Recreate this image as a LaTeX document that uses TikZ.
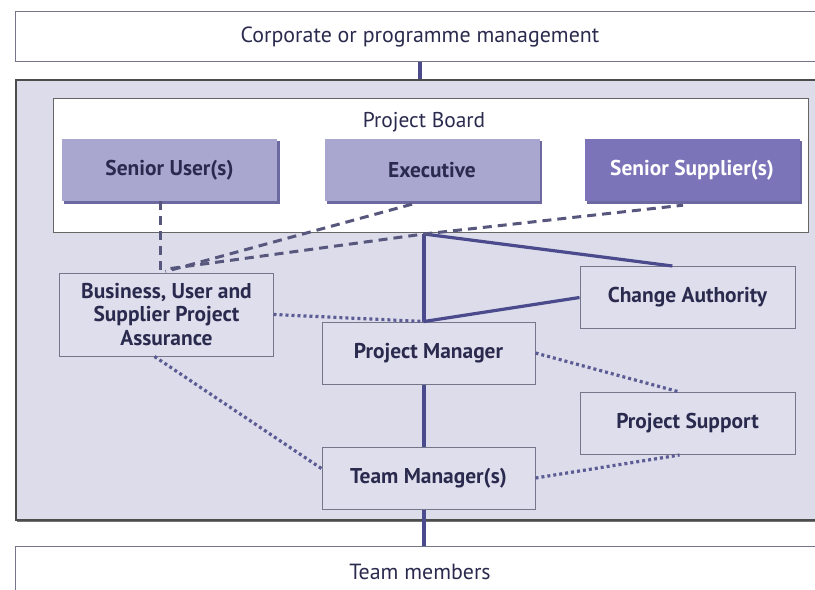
\documentclass[tikz,border=0pt]{standalone}
\usepackage{fontspec}
\setmainfont{PT Sans}
\usetikzlibrary{calc, shadows, arrows.meta}
\definecolor{linkcol}{HTML}{4A4A8C}
\definecolor{dashcol}{HTML}{57577E}
\definecolor{dotcol}{HTML}{5C5C94}
\definecolor{panelfill}{HTML}{DCDCEB}
\definecolor{rolefill}{HTML}{DEDEEC}
\definecolor{roleedge}{HTML}{76768A}
\definecolor{memberfill}{HTML}{A9A6D0}
\definecolor{supplierfill}{HTML}{7C74B8}
\definecolor{membershade}{HTML}{6C68A0}
\definecolor{labeltext}{HTML}{2A2A4E}
\tikzset{>=latex,
  bandbox/.style={draw=roleedge, fill=white, line width=1bp, minimum width=808bp,
    font=\fontsize{22}{25}\selectfont, text=labeltext},
  outerbox/.style={draw=black!70, fill=panelfill, line width=1.5bp,
    copy shadow={shadow xshift=1.5bp, shadow yshift=-2bp, fill=black!55, draw=none}},
  boardframe/.style={draw=black!60, fill=white, line width=1bp},
  rolebox/.style={draw=roleedge, fill=rolefill, line width=1bp, minimum width=213bp,
    minimum height=62bp, align=center, text=labeltext,
    font=\bfseries\fontsize{21.5}{24}\selectfont},
  memberbox/.style={fill=memberfill, minimum width=215bp, minimum height=62bp,
    text=labeltext, font=\bfseries\fontsize{21.5}{24}\selectfont,
    copy shadow={shadow xshift=2.5bp, shadow yshift=-2.5bp, fill=membershade, draw=none}},
  solidlink/.style={draw=linkcol, line width=3.2bp},
  dashlink/.style={draw=dashcol, line width=3bp, dash pattern=on 9bp off 6bp},
  dotlink/.style={draw=dotcol, line width=3.2bp, dash pattern=on 3bp off 3bp}}

\begin{document}
\begin{tikzpicture}[x=1bp, y=-1bp]
\useasboundingbox (0,0) rectangle (815,590);
% outer frames
\node[bandbox, minimum height=50bp] (corp) at (420,37) {Corporate or programme management};
\node[outerbox, minimum width=808bp, minimum height=440bp] (outer) at (420,300) {};
\node[bandbox, minimum height=52bp] (team) at (420,572) {Team members};
\node[boardframe, minimum width=754bp, minimum height=133bp] (board) at (431,165.5) {};
\node[text=labeltext, font=\fontsize{21.5}{24}\selectfont] (boardlabel) at (424,122) {Project Board};
% board members
\node[memberbox] (su) at (169.5,170) {Senior User(s)};
\node[memberbox] (ex) at (432,170) {Executive};
\node[memberbox, fill=supplierfill, text=white] (ss) at (692,170) {Senior Supplier(s)};
% roles
\node[rolebox, minimum height=83bp] (bupa) at (166.5,314.5) {Business, User and\\Supplier Project\\Assurance};
\node[rolebox, minimum width=215bp] (ca) at (687.5,297.5) {Change Authority};
\node[rolebox] (pm) at (428.5,353) {Project Manager};
\node[rolebox, minimum width=215bp] (ps) at (687.5,423.5) {Project Support};
\node[rolebox] (tm) at (428.5,478) {Team Manager(s)};
\coordinate (hub) at (424,234);
% lines of authority
\path[solidlink]
(corp.south)                                  edge (outer.north)
(pm.south -| hub)                             edge (tm.north -| hub)
(pm.north -| hub)                             edge (hub)
(pm.north -| hub)                             edge (ca.west)
($(ca.north west)!0.43!(ca.north east)$)      edge (hub)
(tm.south -| hub)                             edge (team.north -| hub);
% assurance
\path[dashlink]
($(su.south)+(-9,0)$)                         edge ($(bupa.north)+(-6,0)$)
($(ex.south)+(-20,3)$)                        edge ($(bupa.north)+(-1,-1)$);
\draw[dashlink] ($(bupa.north)+(4,-4)$) -- (hub) -- ($(ss.south)+(-9,4)$);
% support
\path[dotlink]
(bupa.east)                                   edge (pm.north -| hub)
($(bupa.south)+(-12,0)$)                      edge ($(tm.north west)!0.35!(tm.south west)$)
(pm.east)                                     edge ($(ps.north)+(-8,0)$)
(tm.east)                                     edge ($(ps.south)+(-8,0)$);
\end{tikzpicture}
\end{document}
